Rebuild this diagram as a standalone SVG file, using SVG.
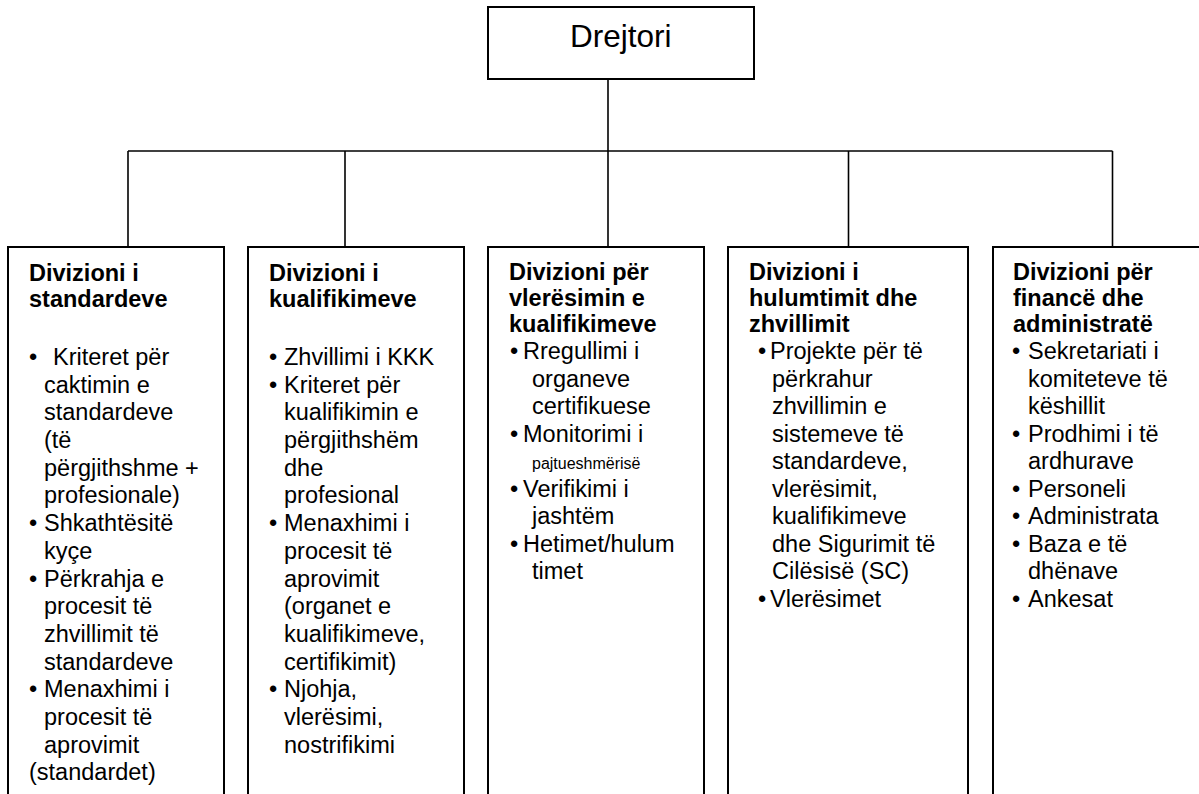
<svg xmlns="http://www.w3.org/2000/svg" width="1199" height="794" viewBox="0 0 1199 794">
<style>
.box{fill:#fff;stroke:#000;stroke-width:2}
.con{stroke:#000;stroke-width:1.6;fill:none}
text{font-family:"Liberation Sans",Arial,sans-serif;fill:#000}
.h{font-size:23.5px;font-weight:bold}
.t{font-size:23.5px}
.b{font-size:23.5px;text-anchor:middle}
.s{font-size:16px}
.top{font-size:31.5px}
</style>
<rect width="1199" height="794" fill="#fff"/>
<g id="connectors">
<line class="con" x1="608" y1="79" x2="608" y2="247"/>
<line class="con" x1="128" y1="151" x2="1112.5" y2="151"/>
<line class="con" x1="128" y1="151" x2="128" y2="247"/>
<line class="con" x1="345" y1="151" x2="345" y2="247"/>
<line class="con" x1="848.5" y1="151" x2="848.5" y2="247"/>
<line class="con" x1="1112.5" y1="151" x2="1112.5" y2="247"/>
</g>
<g id="drejtori">
<rect class="box" x="488" y="7" width="266" height="72"/>
<text class="top" x="570" y="47">Drejtori</text>
</g>
<g id="div-standardeve">
<rect class="box" x="8" y="247" width="216" height="600"/>
<text class="h" x="29" y="281">Divizioni i</text>
<text class="h" x="29" y="307">standardeve</text>
<text class="b" x="33" y="365">•</text><text class="t" x="53" y="365">Kriteret për</text>
<text class="t" x="44" y="393">caktimin e</text>
<text class="t" x="44" y="420">standardeve</text>
<text class="t" x="44" y="448">(të</text>
<text class="t" x="44" y="476">përgjithshme +</text>
<text class="t" x="44" y="503">profesionale)</text>
<text class="b" x="33" y="531">•</text><text class="t" x="44" y="531">Shkathtësitë</text>
<text class="t" x="44" y="559">kyçe</text>
<text class="b" x="33" y="587">•</text><text class="t" x="44" y="587">Përkrahja e</text>
<text class="t" x="44" y="614">procesit të</text>
<text class="t" x="44" y="642">zhvillimit të</text>
<text class="t" x="44" y="670">standardeve</text>
<text class="b" x="33" y="697">•</text><text class="t" x="44" y="697">Menaxhimi i</text>
<text class="t" x="44" y="725">procesit të</text>
<text class="t" x="44" y="753">aprovimit</text>
<text class="t" x="29" y="780">(standardet)</text>
</g>
<g id="div-kualifikimeve">
<rect class="box" x="248" y="247" width="216" height="600"/>
<text class="h" x="269" y="281">Divizioni i</text>
<text class="h" x="269" y="307">kualifikimeve</text>
<text class="b" x="273" y="365">•</text><text class="t" x="284" y="365">Zhvillimi i KKK</text>
<text class="b" x="273" y="393">•</text><text class="t" x="284" y="393">Kriteret për</text>
<text class="t" x="284" y="420">kualifikimin e</text>
<text class="t" x="284" y="448">përgjithshëm</text>
<text class="t" x="284" y="476">dhe</text>
<text class="t" x="284" y="503">profesional</text>
<text class="b" x="273" y="531">•</text><text class="t" x="284" y="531">Menaxhimi i</text>
<text class="t" x="284" y="559">procesit të</text>
<text class="t" x="284" y="587">aprovimit</text>
<text class="t" x="284" y="614">(organet e</text>
<text class="t" x="284" y="642">kualifikimeve,</text>
<text class="t" x="284" y="670">certifikimit)</text>
<text class="b" x="273" y="697">•</text><text class="t" x="284" y="697">Njohja,</text>
<text class="t" x="284" y="725">vlerësimi,</text>
<text class="t" x="284" y="753">nostrifikimi</text>
</g>
<g id="div-vleresimit">
<rect class="box" x="488" y="247" width="216" height="600"/>
<text class="h" x="509" y="280">Divizioni për</text>
<text class="h" x="509" y="306">vlerësimin e</text>
<text class="h" x="509" y="332">kualifikimeve</text>
<text class="b" x="514" y="359">•</text><text class="t" x="523" y="359">Rregullimi i</text>
<text class="t" x="532" y="386.5">organeve</text>
<text class="t" x="532" y="414">certifikuese</text>
<text class="b" x="514" y="441.5">•</text><text class="t" x="523" y="441.5">Monitorimi i</text>
<text class="t s" x="532" y="469">pajtueshmërisë</text>
<text class="b" x="514" y="496.5">•</text><text class="t" x="523" y="496.5">Verifikimi i</text>
<text class="t" x="532" y="524">jashtëm</text>
<text class="b" x="514" y="551.5">•</text><text class="t" x="523" y="551.5">Hetimet/hulum</text>
<text class="t" x="532" y="579">timet</text>
</g>
<g id="div-hulumtimit">
<rect class="box" x="728" y="247" width="240" height="600"/>
<text class="h" x="749" y="280">Divizioni i</text>
<text class="h" x="749" y="306">hulumtimit dhe</text>
<text class="h" x="749" y="332">zhvillimit</text>
<text class="b" x="762" y="359">•</text><text class="t" x="770" y="359">Projekte për të</text>
<text class="t" x="772" y="386.5">përkrahur</text>
<text class="t" x="772" y="414">zhvillimin e</text>
<text class="t" x="772" y="441.5">sistemeve të</text>
<text class="t" x="772" y="469">standardeve,</text>
<text class="t" x="772" y="496.5">vlerësimit,</text>
<text class="t" x="772" y="524">kualifikimeve</text>
<text class="t" x="772" y="551.5">dhe Sigurimit të</text>
<text class="t" x="772" y="579">Cilësisë (SC)</text>
<text class="b" x="762" y="606.5">•</text><text class="t" x="770" y="606.5">Vlerësimet</text>
</g>
<g id="div-finance">
<rect class="box" x="993" y="247" width="300" height="600"/>
<text class="h" x="1013" y="280">Divizioni për</text>
<text class="h" x="1013" y="306">financë dhe</text>
<text class="h" x="1013" y="332">administratë</text>
<text class="b" x="1016" y="359">•</text><text class="t" x="1028" y="359">Sekretariati i</text>
<text class="t" x="1028" y="386.5">komiteteve të</text>
<text class="t" x="1028" y="414">këshillit</text>
<text class="b" x="1016" y="441.5">•</text><text class="t" x="1028" y="441.5">Prodhimi i të</text>
<text class="t" x="1028" y="469">ardhurave</text>
<text class="b" x="1016" y="496.5">•</text><text class="t" x="1028" y="496.5">Personeli</text>
<text class="b" x="1016" y="524">•</text><text class="t" x="1028" y="524">Administrata</text>
<text class="b" x="1016" y="551.5">•</text><text class="t" x="1028" y="551.5">Baza e të</text>
<text class="t" x="1028" y="579">dhënave</text>
<text class="b" x="1016" y="606.5">•</text><text class="t" x="1028" y="606.5">Ankesat</text>
</g>
</svg>
